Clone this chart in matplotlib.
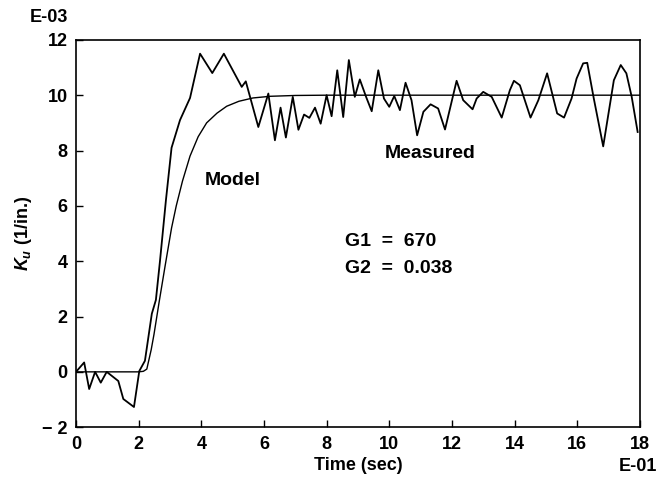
import matplotlib
matplotlib.use("Agg")
import matplotlib.pyplot as plt

plt.rcParams['font.family'] = ['Liberation Sans', 'DejaVu Sans']
plt.rcParams['font.weight'] = 'bold'
plt.rcParams['mathtext.fontset'] = 'custom'
plt.rcParams['mathtext.it'] = 'Liberation Sans:italic:bold'
plt.rcParams['mathtext.rm'] = 'Liberation Sans:bold'

# time in units of E-01 sec, Ku in units of E-03 1/in.
model_t = [0.0, 2.0, 2.15, 2.26, 2.4, 2.49, 2.65, 2.84, 3.05, 3.2, 3.4, 3.64, 3.9,
           4.17, 4.5, 4.81, 5.2, 5.65, 6.2, 7.0, 8.0, 18.0]
model_k = [0.0, 0.0, 0.02, 0.1, 0.8, 1.36, 2.5, 3.8, 5.2, 6.0, 6.9, 7.8, 8.5,
           9.0, 9.35, 9.6, 9.78, 9.9, 9.96, 9.99, 10.0, 10.0]

meas_t = [0.0, 0.26, 0.42, 0.61, 0.79, 0.98, 1.35, 1.51, 1.85, 2.02, 2.2, 2.42, 2.55,
          2.68, 2.87, 3.05, 3.32, 3.64, 3.96, 4.35, 4.72, 5.29, 5.42, 5.82, 6.14,
          6.35, 6.53, 6.7, 6.92, 7.1, 7.28, 7.45, 7.63, 7.81, 8.0, 8.16, 8.34,
          8.53, 8.71, 8.9, 9.06, 9.26, 9.44, 9.65, 9.83, 10.0, 10.16, 10.34, 10.52,
          10.71, 10.89, 11.09, 11.32, 11.56, 11.78, 12.15, 12.36, 12.66, 12.79,
          13.0, 13.27, 13.59, 13.85, 13.98, 14.17, 14.51, 14.76, 15.04, 15.36,
          15.58, 15.82, 15.98, 16.19, 16.32, 16.53, 16.83, 17.17, 17.39, 17.57,
          17.74, 17.93]
meas_k = [0.0, 0.34, -0.62, 0.0, -0.39, 0.0, -0.33, -0.98, -1.27, 0.03, 0.4, 2.1, 2.6,
          4.0, 6.2, 8.1, 9.1, 9.9, 11.5, 10.8, 11.5, 10.3, 10.5, 8.85, 10.06,
          8.37, 9.55, 8.47, 9.94, 8.75, 9.3, 9.18, 9.55, 8.97, 10.0, 9.24, 10.9,
          9.21, 11.27, 9.94, 10.57, 9.94, 9.42, 10.9, 9.88, 9.58, 9.97, 9.46, 10.45,
          9.82, 8.55, 9.4, 9.67, 9.52, 8.76, 10.52, 9.82, 9.49, 9.88,
          10.12, 9.94, 9.19, 10.18, 10.52, 10.36, 9.19, 9.82, 10.79, 9.34,
          9.19, 9.88, 10.6, 11.15, 11.17, 9.88, 8.15, 10.54, 11.09, 10.79,
          9.94, 8.67]

x_ticks = [0, 2, 4, 6, 8, 10, 12, 14, 16, 18]
y_ticks = [-2, 0, 2, 4, 6, 8, 10, 12]

fig = plt.figure(figsize=(6.61, 4.86), dpi=100)
ax = fig.add_axes([0.115, 0.121, 0.853, 0.797])

ax.plot(model_t, model_k, color='black', lw=1.0)
ax.plot(meas_t, meas_k, color='black', lw=1.3)

ax.set_xlim(0, 18)
ax.set_ylim(-2, 12)
ax.set_xticks(x_ticks)
ax.set_yticks(y_ticks)
ax.set_yticklabels([str(v).replace('-', '\u2212 ') for v in y_ticks])
ax.tick_params(direction='in', length=5, width=1, labelsize=13, pad=6)
for s in ax.spines.values():
    s.set_linewidth(1.2)

ax.set_xlabel('Time (sec)', fontsize=13, fontweight='bold', labelpad=3)
ax.set_ylabel(r'$K_u$ (1/in.)', fontsize=13, fontweight='bold', labelpad=6)

fig.text(0.045, 0.965, 'E-03', fontsize=13, fontweight='bold', va='center')
fig.text(0.965, 0.04, 'E-01', fontsize=13, fontweight='bold', ha='center', va='center')

ax.text(4.1, 6.9, 'Model', fontsize=14, fontweight='bold', va='center')
ax.text(9.86, 7.9, 'Measured', fontsize=14, fontweight='bold', va='center')
ax.text(8.6, 4.7, 'G1  =  670', fontsize=14, fontweight='bold', va='center')
ax.text(8.6, 3.75, 'G2  =  0.038', fontsize=14, fontweight='bold', va='center')

fig.savefig('out.png', dpi=100)
